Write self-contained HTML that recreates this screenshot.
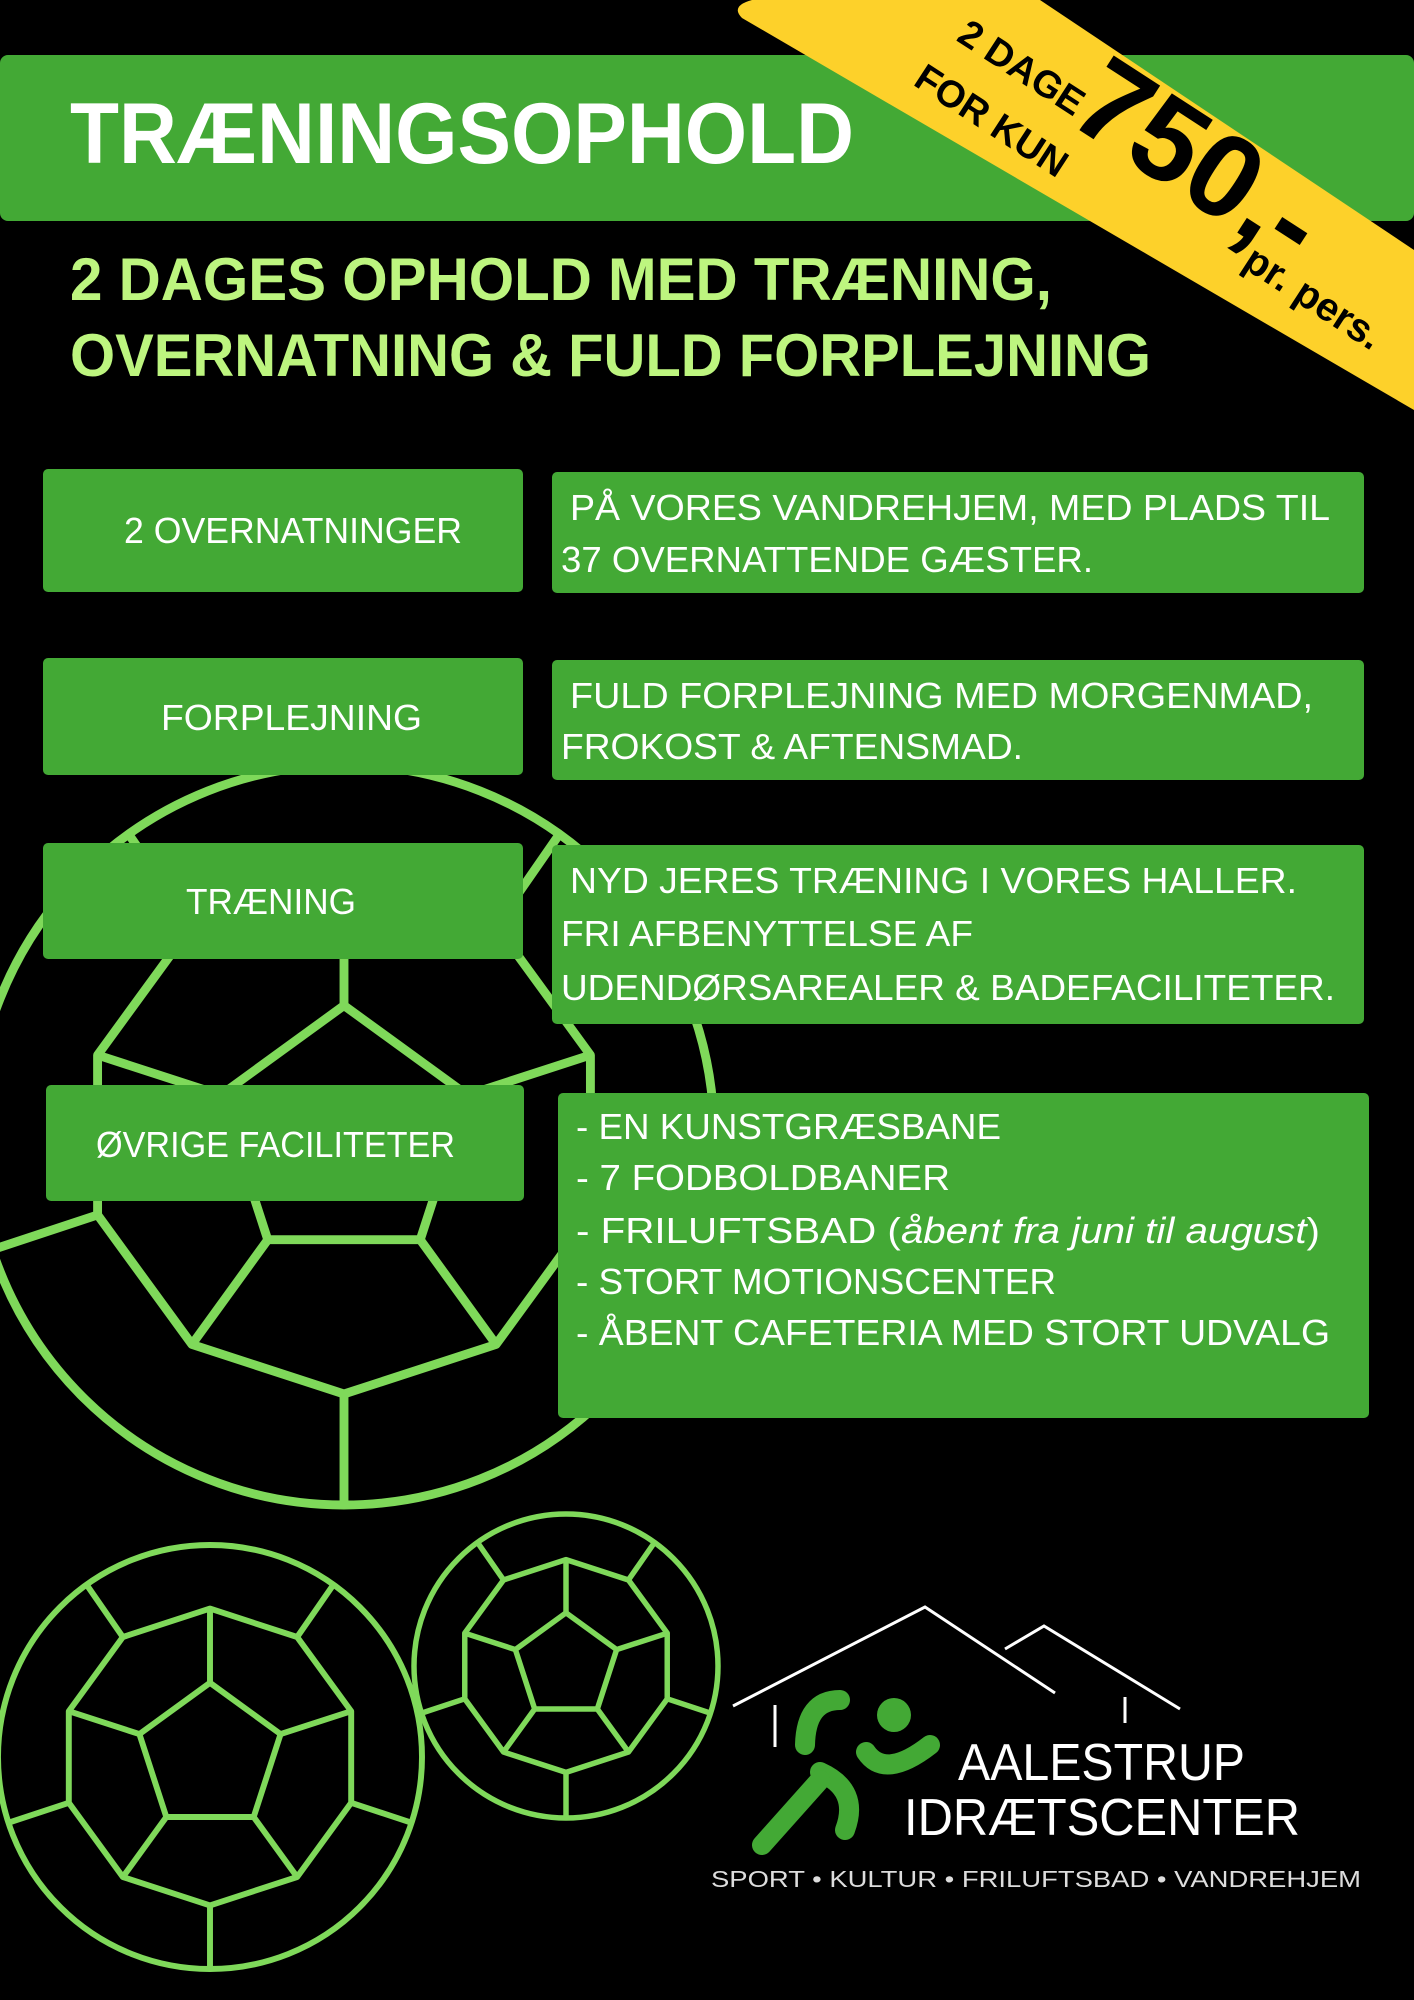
<!DOCTYPE html>
<html><head><meta charset="utf-8"><style>
html,body{margin:0;padding:0;background:#000;}
svg{display:block}
</style></head><body>
<svg width="1414" height="2000" viewBox="0 0 1414 2000" xmlns="http://www.w3.org/2000/svg">
<defs>
<g id="net">
  <circle cx="0" cy="0" r="100"/>
  <polygon points="0,-35 33.3,-10.8 20.6,28.3 -20.6,28.3 -33.3,-10.8"/>
  <polygon points="0,-70 41.1,-56.6 66.6,-21.6 66.6,21.6 41.1,56.6 0,70 -41.1,56.6 -66.6,21.6 -66.6,-21.6 -41.1,-56.6"/>
  <path d="M0,-35L0,-70M33.3,-10.8L66.6,-21.6M20.6,28.3L41.1,56.6M-20.6,28.3L-41.1,56.6M-33.3,-10.8L-66.6,-21.6
  M41.1,-56.6L58,-81M66.6,21.6L95,31M0,70L0,100M-66.6,21.6L-95,31M-41.1,-56.6L-58,-81"/>
</g>
</defs>
<rect width="1414" height="2000" fill="#000"/>

<!-- balls -->
<g fill="none" stroke="#7fd95a" stroke-linejoin="round">
  <use href="#net" transform="translate(344,1135) scale(3.7)" stroke-width="2.4"/>
  <use href="#net" transform="translate(210,1757) scale(2.12)" stroke-width="2.8"/>
  <use href="#net" transform="translate(566,1666) scale(1.52)" stroke-width="3.6"/>
</g>

<!-- header -->
<rect x="0" y="55" width="1414" height="166" rx="8" fill="#43a935"/>
<text x="70" y="163" font-family="Liberation Sans, sans-serif" font-weight="bold" font-size="86" fill="#fff" textLength="784" lengthAdjust="spacingAndGlyphs">TRÆNINGSOPHOLD</text>

<!-- ribbon -->
<path d="M752,0 L1040,0 L1414,250 L1414,410 L742,18 Q730,6 752,0Z" fill="#fdd12a"/>
<g font-family="Liberation Sans, sans-serif" font-weight="bold" fill="#000">
  <text transform="translate(1020,70) rotate(33)" text-anchor="middle" dominant-baseline="middle" font-size="38">2 DAGE</text>
  <text transform="translate(990,123) rotate(33)" text-anchor="middle" dominant-baseline="middle" font-size="38">FOR KUN</text>
  <text transform="translate(1195,168) rotate(33)" text-anchor="middle" dominant-baseline="middle" font-size="118">750,-</text>
  <text transform="translate(1312,300) rotate(33)" text-anchor="middle" dominant-baseline="middle" font-size="40">pr. pers.</text>
</g>

<!-- subtitle -->
<g font-family="Liberation Sans, sans-serif" font-weight="bold" fill="#bdf57f" font-size="60">
  <text x="70" y="300" textLength="982" lengthAdjust="spacingAndGlyphs">2 DAGES OPHOLD MED TRÆNING,</text>
  <text x="70" y="376" textLength="1081" lengthAdjust="spacingAndGlyphs">OVERNATNING &amp; FULD FORPLEJNING</text>
</g>

<!-- rows -->
<g fill="#43a935">
  <rect x="43" y="469" width="480" height="123" rx="5"/>
  <rect x="552" y="472" width="812" height="121" rx="5"/>
  <rect x="43" y="658" width="480" height="117" rx="5"/>
  <rect x="552" y="660" width="812" height="120" rx="5"/>
  <rect x="43" y="843" width="480" height="116" rx="5"/>
  <rect x="552" y="845" width="812" height="179" rx="5"/>
  <rect x="46" y="1085" width="478" height="116" rx="5"/>
  <rect x="558" y="1093" width="811" height="325" rx="5"/>
</g>
<g font-family="Liberation Sans, sans-serif" fill="#fff" font-size="36">
  <text x="124" y="543" textLength="338" lengthAdjust="spacingAndGlyphs">2 OVERNATNINGER</text>
  <text x="161" y="730" textLength="261" lengthAdjust="spacingAndGlyphs">FORPLEJNING</text>
  <text x="186" y="914" textLength="170" lengthAdjust="spacingAndGlyphs">TRÆNING</text>
  <text x="96" y="1157" textLength="359" lengthAdjust="spacingAndGlyphs">ØVRIGE FACILITETER</text>

  <text x="570" y="520" textLength="760" lengthAdjust="spacingAndGlyphs">PÅ VORES VANDREHJEM, MED PLADS TIL</text>
  <text x="561" y="572" textLength="532" lengthAdjust="spacingAndGlyphs">37 OVERNATTENDE GÆSTER.</text>
  <text x="570" y="708" textLength="743" lengthAdjust="spacingAndGlyphs">FULD FORPLEJNING MED MORGENMAD,</text>
  <text x="561" y="759" textLength="462" lengthAdjust="spacingAndGlyphs">FROKOST &amp; AFTENSMAD.</text>
  <text x="570" y="893" textLength="727" lengthAdjust="spacingAndGlyphs">NYD JERES TRÆNING I VORES HALLER.</text>
  <text x="561" y="946" textLength="412" lengthAdjust="spacingAndGlyphs">FRI AFBENYTTELSE AF</text>
  <text x="561" y="1000" textLength="774" lengthAdjust="spacingAndGlyphs">UDENDØRSAREALER &amp; BADEFACILITETER.</text>

  <text x="576" y="1139" textLength="425" lengthAdjust="spacingAndGlyphs">- EN KUNSTGRÆSBANE</text>
  <text x="576" y="1190" textLength="374" lengthAdjust="spacingAndGlyphs">-  7 FODBOLDBANER</text>
  <text x="576" y="1243" textLength="744" lengthAdjust="spacingAndGlyphs">- FRILUFTSBAD (<tspan font-style="italic">åbent fra juni til august</tspan>)</text>
  <text x="576" y="1294" textLength="480" lengthAdjust="spacingAndGlyphs">- STORT MOTIONSCENTER</text>
  <text x="576" y="1345" textLength="754" lengthAdjust="spacingAndGlyphs">- ÅBENT CAFETERIA MED STORT UDVALG</text>
</g>

<!-- logo -->
<g fill="none" stroke="#fff" stroke-width="3">
  <polyline points="733,1706 925,1607 1055,1693"/>
  <polyline points="1005,1649 1044,1626 1180,1709"/>
  <line x1="775" y1="1705" x2="775" y2="1747"/>
  <line x1="1125" y1="1697" x2="1125" y2="1723"/>
</g>
<g fill="none" stroke="#43a935" stroke-linecap="round" stroke-width="20">
  <path d="M805,1745 Q806,1700 840,1700"/>
  <path d="M866,1752 Q885,1780 930,1745"/>
  <path d="M820,1772 Q860,1790 845,1830"/>
  <path d="M820,1780 L762,1845"/>
</g>
<circle cx="894" cy="1715" r="17" fill="#43a935"/>
<g font-family="Liberation Sans, sans-serif" fill="#fff">
  <text x="958" y="1780" font-size="52" textLength="287" lengthAdjust="spacingAndGlyphs">AALESTRUP</text>
  <text x="904" y="1835" font-size="52" textLength="396" lengthAdjust="spacingAndGlyphs">IDRÆTSCENTER</text>
  <text x="711" y="1887" font-size="23" fill="#ddd" textLength="650" lengthAdjust="spacingAndGlyphs">SPORT • KULTUR • FRILUFTSBAD • VANDREHJEM</text>
</g>
</svg>
</body></html>
